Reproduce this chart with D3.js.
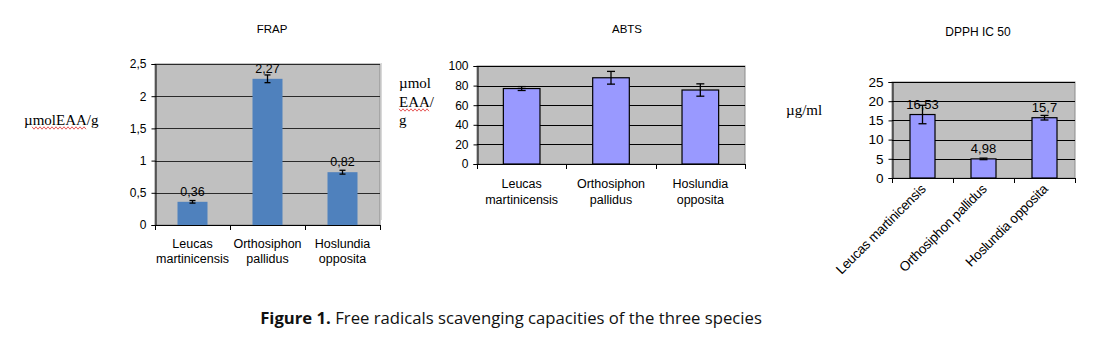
<!DOCTYPE html>
<html><head><meta charset="utf-8">
<script src="https://cdn.jsdelivr.net/npm/d3@7"></script>
<style>body{margin:0;background:#fff}svg{display:block}</style>
</head><body>
<svg id="c" width="1104" height="355"></svg>
<script>
// ---- data ----
const categories = ["Leucas martinicensis", "Orthosiphon pallidus", "Hoslundia opposita"];
const categoryLines = [["Leucas", "martinicensis"], ["Orthosiphon", "pallidus"], ["Hoslundia", "opposita"]];

const frapValues = [0.36, 2.27, 0.82];
const frapErrors = [0.02, 0.06, 0.03];
const frapLabels = ["0,36", "2,27", "0,82"];
const frapTicks = [0, 0.5, 1, 1.5, 2, 2.5];

const abtsValues = [77, 88, 75.5];
const abtsErrors = [2, 6.5, 6.3];
const abtsTicks = [0, 20, 40, 60, 80, 100];

const dpphValues = [16.53, 4.98, 15.7];
const dpphErrors = [2.4, 0.2, 0.6];
const dpphLabels = ["16,53", "4,98", "15,7"];
const dpphTicks = [0, 5, 10, 15, 20, 25];

const titles = ["FRAP", "ABTS", "DPPH IC 50"];

const svg = d3.select("#c");
const fmt = d => String(d).replace(".", ",");

function chart(o) {
  const x = d3.scaleBand().domain(categories).range([o.x0, o.x1])
    .paddingInner(o.pad).paddingOuter(o.pad / 2);
  const y = d3.scaleLinear().domain([0, o.ticks[o.ticks.length - 1]]).range([o.y0, o.y1]);
  const g = svg.append("g");
  // plot background
  g.append("rect").attr("x", o.x0).attr("y", o.y1).attr("width", o.x1 - o.x0).attr("height", o.y0 - o.y1)
    .attr("fill", "#c0c0c0").attr("stroke", "#8c8c8c").attr("stroke-width", 1);
  // gridlines
  g.selectAll(".grid").data(o.ticks.slice(1)).join("line")
    .attr("x1", o.x0).attr("x2", o.x1).attr("y1", d => Math.round(y(d)) + 0.5).attr("y2", d => Math.round(y(d)) + 0.5)
    .attr("stroke", o.gridColor).attr("stroke-width", 1);
  // y axis
  const ya = g.append("g").attr("transform", `translate(${o.x0 + 0.5},0)`)
    .call(d3.axisLeft(y).tickValues(o.ticks).tickFormat(fmt).tickSize(4).tickPadding(5));
  ya.select(".domain").attr("stroke", "#000");
  ya.selectAll(".tick line").attr("stroke", "#000");
  ya.selectAll("text").attr("font-family", "Liberation Sans, Arial, sans-serif").attr("font-size", o.tickFont).attr("fill", "#000");
  // x axis
  const boundaries = [o.x0, ...categories.slice(1).map(c => x(c) - x.step() * x.paddingInner() / 2), o.x1];
  g.append("line").attr("x1", o.x0).attr("x2", o.x1).attr("y1", o.y0 + 0.5).attr("y2", o.y0 + 0.5).attr("stroke", "#000");
  g.selectAll(".xt").data(boundaries).join("line")
    .attr("x1", d => Math.round(d) + 0.5).attr("x2", d => Math.round(d) + 0.5)
    .attr("y1", o.y0).attr("y2", o.y0 + 5).attr("stroke", "#000");
  // bars
  g.selectAll(".bar").data(o.values).join("rect")
    .attr("x", (d, i) => x(categories[i])).attr("width", x.bandwidth())
    .attr("y", d => y(d)).attr("height", d => o.y0 - y(d))
    .attr("fill", o.barColor).attr("stroke", o.barStroke || "none").attr("stroke-width", 1.2);
  // error bars
  const cx = i => x(categories[i]) + x.bandwidth() / 2;
  const eb = g.selectAll(".eb").data(o.values).join("g");
  eb.append("line").attr("x1", (d, i) => cx(i)).attr("x2", (d, i) => cx(i))
    .attr("y1", (d, i) => y(d + o.errors[i])).attr("y2", (d, i) => y(d - o.errors[i])).attr("stroke", "#000").attr("stroke-width", 1.3);
  [1, -1].forEach(s => {
    eb.append("line").attr("x1", (d, i) => cx(i) - o.cap).attr("x2", (d, i) => cx(i) + o.cap)
      .attr("y1", (d, i) => y(d + s * o.errors[i])).attr("y2", (d, i) => y(d + s * o.errors[i]))
      .attr("stroke", "#000").attr("stroke-width", 1.3);
  });
  // data labels
  if (o.labels) {
    g.selectAll(".dl").data(o.values).join("text")
      .attr("x", (d, i) => cx(i)).attr("y", d => y(d) - 6)
      .attr("text-anchor", "middle").attr("font-family", "Liberation Sans, Arial, sans-serif")
      .attr("font-size", o.labelFont).text((d, i) => o.labels[i]);
  }
  // category labels
  if (o.rotate) {
    g.selectAll(".cl").data(categories).join("text")
      .attr("transform", (d, i) => `translate(${cx(i) + 4},${o.y0 + 12}) rotate(-45)`)
      .attr("text-anchor", "end").attr("font-family", "Liberation Sans, Arial, sans-serif")
      .attr("font-size", o.catFont).attr("letter-spacing", -0.3).text(d => d);
  } else {
    const t = g.selectAll(".cl").data(categoryLines).join("text")
      .attr("text-anchor", "middle").attr("font-family", "Liberation Sans, Arial, sans-serif")
      .attr("font-size", o.catFont);
    t.selectAll("tspan").data((d, i) => d.map(s => ({ s, i }))).join("tspan")
      .attr("x", d => cx(d.i)).attr("y", (d, j) => o.y0 + o.catDy + j * o.catLh).text(d => d.s);
  }
  // title
  g.append("text").attr("x", o.titleX).attr("y", o.titleY).attr("text-anchor", "middle")
    .attr("font-family", "Liberation Sans, Arial, sans-serif").attr("font-size", o.titleFont).text(o.title);
}

chart({ x0: 155, x1: 380, y0: 225, y1: 64, pad: 0.6, ticks: frapTicks, values: frapValues, errors: frapErrors,
  labels: frapLabels, barColor: "#4f81bd", gridColor: "#2a2a2a", cap: 3, tickFont: 12, labelFont: 12.5,
  catFont: 12.5, catDy: 23, catLh: 15, title: titles[0], titleX: 272, titleY: 33, titleFont: 11.5 });

chart({ x0: 477, x1: 745, y0: 164, y1: 66, pad: 0.59, ticks: abtsTicks, values: abtsValues, errors: abtsErrors,
  barColor: "#9999ff", barStroke: "#000", gridColor: "#000", cap: 4, tickFont: 12,
  catFont: 12.5, catDy: 24, catLh: 16, title: titles[1], titleX: 627, titleY: 33, titleFont: 11.5 });

chart({ x0: 892, x1: 1075, y0: 178, y1: 82, pad: 0.59, ticks: dpphTicks, values: dpphValues, errors: dpphErrors,
  labels: dpphLabels, barColor: "#9999ff", barStroke: "#000", gridColor: "#000", cap: 4, tickFont: 13.5, labelFont: 13,
  rotate: true, catFont: 13.5, title: titles[2], titleX: 978, titleY: 36, titleFont: 12 });

// y axis titles (serif)
const serif = "Liberation Serif, Times New Roman, serif";
svg.append("text").attr("x", 24).attr("y", 125).attr("font-family", serif).attr("font-size", 15).text("µmolEAA/g");
const ab = svg.append("text").attr("font-family", serif).attr("font-size", 15);
["µmol", "EAA/", "g"].forEach((s, j) => ab.append("tspan").attr("x", 399).attr("y", 88 + j * 18.5).text(s));
svg.append("text").attr("x", 786).attr("y", 115).attr("font-family", serif).attr("font-size", 15).text("µg/ml");

// spell-check squiggles
function squiggle(xa, xb, yy) {
  const pts = [];
  for (let xx = xa, k = 0; xx <= xb; xx += 2, k++) pts.push([xx, yy + (k % 2 ? 1.2 : -1.2)]);
  svg.append("path").attr("d", d3.line()(pts)).attr("fill", "none").attr("stroke", "#e03030").attr("stroke-width", 0.8);
}
squiggle(32, 86, 128);
squiggle(399, 430, 110);

// faint frame line
svg.append("line").attr("x1", 381.5).attr("x2", 381.5).attr("y1", 63).attr("y2", 220).attr("stroke", "#d8d8d8");

// caption
const cap = svg.append("text").attr("x", 511).attr("y", 324).attr("text-anchor", "middle")
  .attr("font-family", "Open Sans, Liberation Sans, sans-serif").attr("font-size", 16.7).attr("fill", "#111");
cap.append("tspan").attr("font-weight", "bold").text("Figure 1.");
cap.append("tspan").text(" Free radicals scavenging capacities of the three species");
</script>
</body></html>
